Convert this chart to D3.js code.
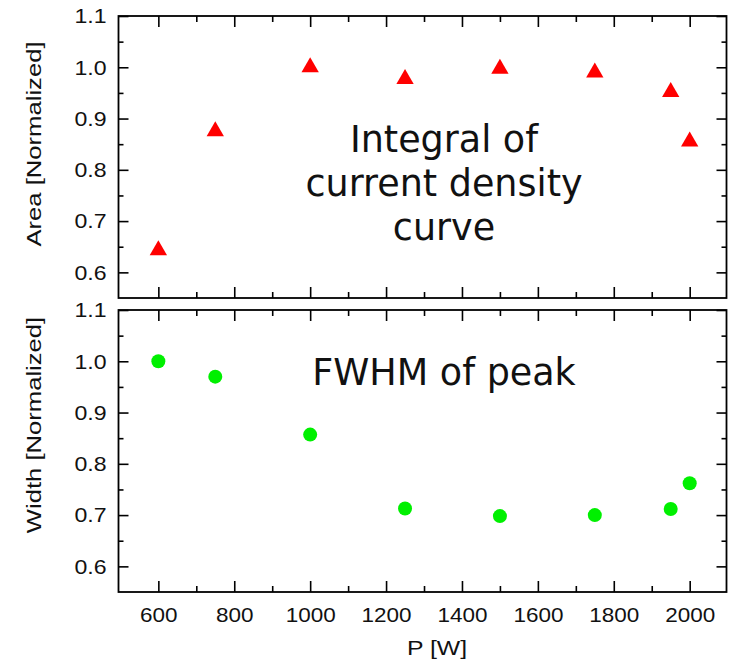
<!DOCTYPE html>
<html>
<head>
<meta charset="utf-8">
<script src="https://cdn.jsdelivr.net/npm/d3@7"></script>
<style>
  body { margin: 0; background: #fff; }
  .axis text { font-family: "Liberation Sans", Arial, sans-serif; font-size: 21px; fill: #111; }
  .axis line, .axis path { stroke: #000; stroke-width: 1.6; }
  .note { font-family: "DejaVu Sans", Verdana, sans-serif; font-size: 36.5px; fill: #111; }
  .title { font-family: "Liberation Sans", Arial, sans-serif; font-size: 21px; fill: #111; }
</style>
</head>
<body>
<svg id="chart" width="734" height="664"></svg>
<script>
// Data
var power = [600, 750, 1000, 1250, 1500, 1750, 1950, 2000];
var areaNorm = [0.643, 0.875, 1.0, 0.977, 0.997, 0.99, 0.952, 0.855];
var widthNorm = [1.0, 0.97, 0.857, 0.713, 0.698, 0.70, 0.712, 0.762];

var xMajor = [600, 800, 1000, 1200, 1400, 1600, 1800, 2000];
var xMinor = [700, 900, 1100, 1300, 1500, 1700, 1900];
var yMajor = [0.6, 0.7, 0.8, 0.9, 1.0, 1.1];
var yMinor = [0.65, 0.75, 0.85, 0.95, 1.05];

var svg = d3.select("#chart");
svg.append("rect").attr("width", 734).attr("height", 664).attr("fill", "#fff");

var left = 118.5, right = 726.5;
var x = d3.scaleLinear().domain([495, 2097]).range([left, right]);

// Widen text a little, the original font is wider than Arial
function stretch(sel, k) {
  sel.each(function() {
    let w = this.getComputedTextLength();
    d3.select(this)
      .attr("textLength", w * k)
      .attr("lengthAdjust", "spacingAndGlyphs");
  });
}

// Draw one panel with its frame and mirrored inward ticks
function drawPanel(top, bottom, showXLabels) {
  let y = d3.scaleLinear().domain([0.55, 1.1]).range([bottom, top]);
  let g = svg.append("g");

  // left axis with labels
  g.append("g").attr("class", "axis")
    .attr("transform", `translate(${left},0)`)
    .call(d3.axisLeft(y).tickValues(yMajor).tickSize(-10).tickPadding(12)
      .tickFormat(d3.format(".1f")))
    .call(a => a.select(".domain").remove())
    .call(a => stretch(a.selectAll("text"), 1.1));
  g.append("g").attr("class", "axis")
    .attr("transform", `translate(${left},0)`)
    .call(d3.axisLeft(y).tickValues(yMinor).tickSize(-5).tickFormat(""))
    .call(a => a.select(".domain").remove());

  // right mirror
  g.append("g").attr("class", "axis")
    .attr("transform", `translate(${right},0)`)
    .call(d3.axisRight(y).tickValues(yMajor).tickSize(-10).tickFormat(""))
    .call(a => a.select(".domain").remove());
  g.append("g").attr("class", "axis")
    .attr("transform", `translate(${right},0)`)
    .call(d3.axisRight(y).tickValues(yMinor).tickSize(-5).tickFormat(""))
    .call(a => a.select(".domain").remove());

  // bottom axis
  g.append("g").attr("class", "axis")
    .attr("transform", `translate(0,${bottom})`)
    .call(d3.axisBottom(x).tickValues(xMajor).tickSize(-11).tickPadding(15)
      .tickFormat(showXLabels ? d3.format("d") : ""))
    .call(a => a.select(".domain").remove())
    .call(a => stretch(a.selectAll("text"), 1.07));
  g.append("g").attr("class", "axis")
    .attr("transform", `translate(0,${bottom})`)
    .call(d3.axisBottom(x).tickValues(xMinor).tickSize(-6).tickFormat(""))
    .call(a => a.select(".domain").remove());

  // top mirror
  g.append("g").attr("class", "axis")
    .attr("transform", `translate(0,${top})`)
    .call(d3.axisTop(x).tickValues(xMajor).tickSize(-11).tickFormat(""))
    .call(a => a.select(".domain").remove());
  g.append("g").attr("class", "axis")
    .attr("transform", `translate(0,${top})`)
    .call(d3.axisTop(x).tickValues(xMinor).tickSize(-6).tickFormat(""))
    .call(a => a.select(".domain").remove());

  // frame
  g.append("rect")
    .attr("x", left).attr("y", top)
    .attr("width", right - left).attr("height", bottom - top)
    .attr("fill", "none").attr("stroke", "#000").attr("stroke-width", 1.8);

  return { g: g, y: y };
}

var topPanel = drawPanel(16, 298, false);
var botPanel = drawPanel(310, 592, true);

// Triangles - area
topPanel.g.selectAll(".tri")
  .data(power.map((p, i) => [p, areaNorm[i]]))
  .enter().append("path")
  .attr("class", "tri")
  .attr("d", d3.symbol(d3.symbolTriangle, 130))
  .attr("transform", d => `translate(${x(d[0])},${topPanel.y(d[1])})`)
  .attr("fill", "#ff0000");

// Circles - width
botPanel.g.selectAll(".dot")
  .data(power.map((p, i) => [p, widthNorm[i]]))
  .enter().append("circle")
  .attr("class", "dot")
  .attr("cx", d => x(d[0]))
  .attr("cy", d => botPanel.y(d[1]))
  .attr("r", 7)
  .attr("fill", "#00f000");

// Annotations
var noteLines = ["Integral of", "current density", "curve"];
svg.selectAll(".note1")
  .data(noteLines)
  .enter().append("text")
  .attr("class", "note")
  .attr("x", 444)
  .attr("y", (d, i) => 152 + i * 44)
  .attr("text-anchor", "middle")
  .text(d => d);

svg.append("text").attr("class", "note")
  .attr("x", 444).attr("y", 385)
  .attr("text-anchor", "middle")
  .text("FWHM of peak");

// Axis titles
svg.append("text").attr("class", "title")
  .attr("transform", "translate(41,144) rotate(-90)")
  .attr("text-anchor", "middle")
  .text("Area [Normalized]")
  .call(t => stretch(t, 1.22));

svg.append("text").attr("class", "title")
  .attr("transform", "translate(41,425) rotate(-90)")
  .attr("text-anchor", "middle")
  .text("Width [Normalized]")
  .call(t => stretch(t, 1.22));

svg.append("text").attr("class", "title")
  .attr("x", 437).attr("y", 655)
  .attr("text-anchor", "middle")
  .text("P [W]")
  .call(t => stretch(t, 1.18));
</script>
</body>
</html>
